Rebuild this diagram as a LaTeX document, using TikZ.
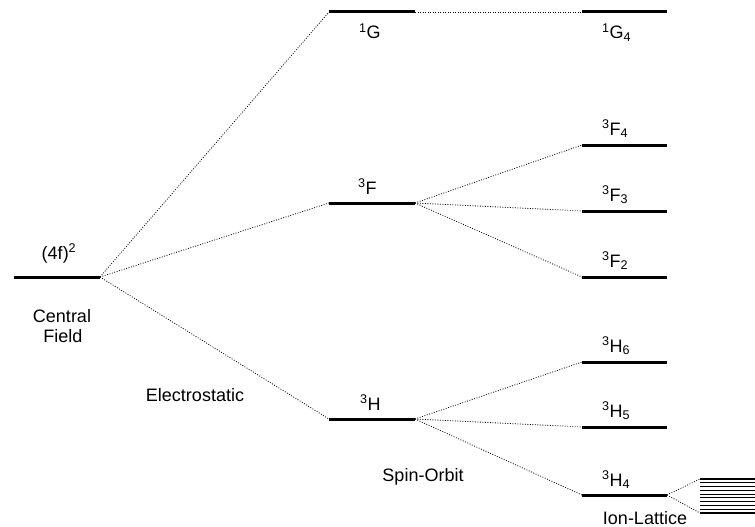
\documentclass[tikz,border=0pt]{standalone}
\usepackage{fontspec}
\setmainfont{Liberation Sans}
\tikzset{
  level/.style={line width=3pt},
  conn/.style={line width=0.8pt, dash pattern=on 0.9pt off 1.6pt},
  lbl/.style={font=\fontsize{18}{21}\selectfont, inner sep=0pt},
  lvlbl/.style={lbl, anchor=base west},
  lattice/.style={line width=1.1pt},
}
\begin{document}
\begin{tikzpicture}[x=1pt,y=-1pt]
\useasboundingbox (0,0) rectangle (755,527);
% levels: left/right coordinates
\coordinate (cfL) at (14,277); \coordinate (cfR) at (100,277);
\coordinate (gL) at (329,12); \coordinate (gR) at (415,12);
\coordinate (fL) at (329,203); \coordinate (fR) at (415,203);
\coordinate (hL) at (329,419); \coordinate (hR) at (415,419);
\coordinate (g4L) at (582,12); \coordinate (g4R) at (667,12);
\coordinate (f4L) at (582,145); \coordinate (f4R) at (667,145);
\coordinate (f3L) at (582,211); \coordinate (f3R) at (667,211);
\coordinate (f2L) at (582,277); \coordinate (f2R) at (667,277);
\coordinate (h6L) at (582,362); \coordinate (h6R) at (667,362);
\coordinate (h5L) at (582,427); \coordinate (h5R) at (667,427);
\coordinate (h4L) at (582,495); \coordinate (h4R) at (667,495);
\coordinate (ilT) at (700,479); \coordinate (ilB) at (700,513);
% level lines
\foreach \a in {cf,g,f,h,g4,f4,f3,f2,h6,h5,h4} \draw[level] (\a L) -- (\a R);
% ion-lattice lines
\foreach \k in {0,...,9} \draw[lattice] (700,{479+\k*3.78}) -- (755,{479+\k*3.78});
% connectors
\draw[conn] (cfR) -- (gL);
\draw[conn] (cfR) -- (fL);
\draw[conn] (cfR) -- (hL);
\draw[conn] (gR) -- (g4L);
\draw[conn] (fR) -- (f4L);
\draw[conn] (fR) -- (f3L);
\draw[conn] (fR) -- (f2L);
\draw[conn] (hR) -- (h6L);
\draw[conn] (hR) -- (h5L);
\draw[conn] (hR) -- (h4L);
\draw[conn] (h4R) -- (ilT);
\draw[conn] (h4R) -- (ilB);
% labels
\node[lbl, anchor=base] (t4f) at (59,259) {(4f)\textsuperscript{2}};
\node[lbl, anchor=base] (tcf1) at (62,322) {Central};
\node[lbl, anchor=base] (tcf2) at (63,342) {Field};
\node[lvlbl] (tg) at (359,39) {\textsuperscript{1}G};
\node[lvlbl] (tf) at (358,194) {\textsuperscript{3}F};
\node[lvlbl] (th) at (360,410) {\textsuperscript{3}H};
\node[lvlbl] (tg4) at (602,39) {\textsuperscript{1}G\textsubscript{4}};
\node[lvlbl] (tf4) at (602,135) {\textsuperscript{3}F\textsubscript{4}};
\node[lvlbl] (tf3) at (602,201) {\textsuperscript{3}F\textsubscript{3}};
\node[lvlbl] (tf2) at (602,267) {\textsuperscript{3}F\textsubscript{2}};
\node[lvlbl] (th6) at (602,352) {\textsuperscript{3}H\textsubscript{6}};
\node[lvlbl] (th5) at (602,417) {\textsuperscript{3}H\textsubscript{5}};
\node[lvlbl] (th4) at (602,486) {\textsuperscript{3}H\textsubscript{4}};
\node[lbl, anchor=base] (tes) at (195,401) {Electrostatic};
\node[lbl, anchor=base] (tso) at (423,481) {Spin-Orbit};
\node[lbl, anchor=base] (til) at (645,524) {Ion-Lattice};
\end{tikzpicture}
\end{document}
